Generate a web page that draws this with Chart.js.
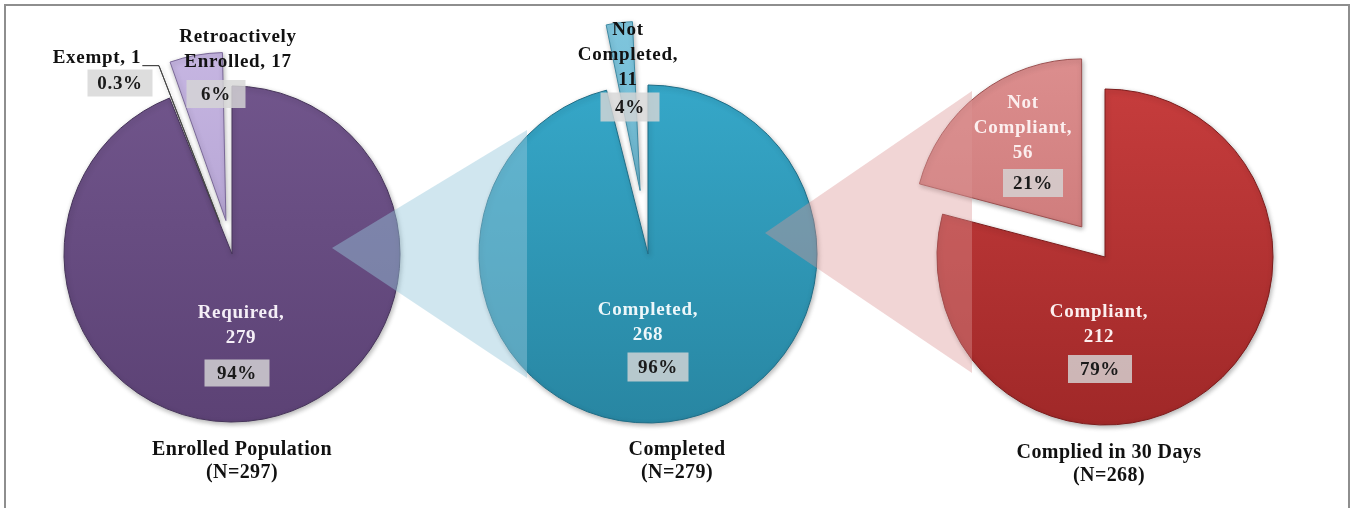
<!DOCTYPE html>
<html><head><meta charset="utf-8">
<script src="https://cdn.jsdelivr.net/npm/chart.js@4.4.1/dist/chart.umd.min.js"></script>
<style>
html,body{margin:0;padding:0;background:#fff;width:1354px;height:508px;overflow:hidden;}
#frame{position:absolute;left:4px;top:4px;width:1342px;height:520px;border:2px solid #8e8e8e;}
canvas{position:absolute;left:0;top:0;}
</style></head><body>
<div id="frame"></div>
<canvas id="c1" width="1354" height="508"></canvas>
<canvas id="c2" width="1354" height="508"></canvas>
<canvas id="c3" width="1354" height="508"></canvas>
<script>
// ---------- data ----------
const pieTitles = ['Enrolled Population', 'Completed', 'Complied in 30 Days'];
const enrolledLabels = ['Required', 'Exempt', ['Retroactively', 'Enrolled']];
const enrolledValues = [279, 1, 17];
const completedLabels = ['Completed', ['Not', 'Completed']];
const completedValues = [268, 11];
const compliedLabels = ['Compliant', ['Not', 'Compliant']];
const compliedValues = [212, 56];

// ---------- style ----------
const FONT = '"Liberation Serif", "Times New Roman", serif';
const pies = [
  { id: 'c1', labels: enrolledLabels, values: enrolledValues, title: pieTitles[0],
    center: [232, 254], radius: 168, titleDx: 10,
    colors: [['#74588f', '#5c4275'], ['#b0b0b0', '#8a8a8a'], ['#cbbbe6', '#a997c9']],
    borders: ['#46345a', '#444444', '#7a6898'],
    offsets: [0, 136, 136],
    valueNewLine: [true, false, false],
    textColor: ['#f5eff7', '#111111', '#111111'],
    textPos: [[9, 59], [-135, -196], [6, -217]],
    boxPos: [[5, 119], [-112, -171], [-16, -160]],
    boxSize: [[65, 27], [65, 27], [59, 28]],
    leader: [false, true, false] },
  { id: 'c2', labels: completedLabels, values: completedValues, title: pieTitles[1],
    center: [648, 254], radius: 169, titleDx: 29,
    colors: [['#38adcf', '#2886a2'], ['#86cbe2', '#5aa8c2']],
    borders: ['#1f6d86', '#3f8aa3'],
    offsets: [0, 256],
    valueNewLine: [true, true],
    textColor: ['#eef7fa', '#111111'],
    textPos: [[0, 56], [-20, -224]],
    boxPos: [[10, 113], [-18, -147]],
    boxSize: [[61, 29], [59, 29]],
    leader: [false, false],
    conn: { apex: [100, -6], baseX: -121, top: -124, bottom: 124, color: 'rgba(150,200,220,0.45)' } },
  { id: 'c3', labels: compliedLabels, values: compliedValues, title: pieTitles[2],
    center: [1105, 257], radius: 168, titleDx: 4,
    colors: [['#cc4040', '#a02828'], ['#e09494', '#c46c6c']],
    borders: ['#7c1c1c', '#9c5050'],
    offsets: [0, 152],
    valueNewLine: [true, true],
    textColor: ['#fcefef', '#fcefef'],
    textPos: [[-6, 55], [-82, -154]],
    boxPos: [[-5, 112], [-72, -74]],
    boxSize: [[64, 28], [60, 28]],
    leader: [false, false],
    conn: { apex: [117, -21], baseX: -133, top: -166, bottom: 116, color: 'rgba(220,150,150,0.4)' } }
];

function pctText(v, total) {
  const p = v / total * 100;
  return (p < 1 ? p.toFixed(1) : Math.round(p).toString()) + '%';
}

function sliceLines(label, value, newLine) {
  const parts = Array.isArray(label) ? label.slice() : [label];
  parts[parts.length - 1] += ',';
  if (newLine) parts.push(String(value));
  else parts[parts.length - 1] += ' ' + value;
  return parts;
}

const charts = [];

function makeChart(p, prev) {
  const S = 200, W = 1354, H = 508;
  const [cx, cy] = p.center;
  const total = p.values.reduce((a, b) => a + b, 0);

  const plugin = {
    id: 'decor_' + p.id,
    beforeDatasetsDraw(chart) {
      const meta = chart.getDatasetMeta(0);
      const R = meta.controller.outerRadius;
      meta.data.forEach(el => {
        const off = (el.options.offset || 0) / 4;
        const fix = 1 - Math.sin(Math.min(Math.PI, el.circumference || 0));
        el.outerRadius = R - off * fix;
      });
      const c = chart.ctx;
      c.save();
      c.shadowColor = 'rgba(0,0,0,0.30)';
      c.shadowBlur = 5;
      c.shadowOffsetX = 1;
      c.shadowOffsetY = 2;
    },
    afterDatasetsDraw(chart) {
      const c = chart.ctx;
      c.restore();
      if (prev && p.conn) {
        const pm = prev.getDatasetMeta(0).data[0];
        const cm = chart.getDatasetMeta(0).data[0];
        const k = p.conn;
        c.save();
        c.fillStyle = k.color;
        c.beginPath();
        c.moveTo(pm.x + k.apex[0], pm.y + k.apex[1]);
        c.lineTo(cm.x + k.baseX, cm.y + k.top);
        c.lineTo(cm.x + k.baseX, cm.y + k.bottom);
        c.closePath();
        c.fill();
        c.restore();
      }
    },
    afterDraw(chart) {
      const c = chart.ctx;
      const meta = chart.getDatasetMeta(0);
      const R = meta.controller.outerRadius;
      const x0 = meta.data[0].x, y0 = meta.data[0].y;
      c.save();
      c.textAlign = 'center';
      c.textBaseline = 'middle';
      p.values.forEach((v, i) => {
        const lines = sliceLines(p.labels[i], v, p.valueNewLine[i]);
        c.font = 'bold 19px ' + FONT;
        c.letterSpacing = '0.7px';
        c.fillStyle = p.textColor[i];
        const tx = x0 + p.textPos[i][0], ty = y0 + p.textPos[i][1];
        lines.forEach((ln, j) => c.fillText(ln, tx, ty + j * 25));
        if (p.leader[i]) {
          const el = meta.data[i];
          const mid = (el.startAngle + el.endAngle) / 2;
          const off = (el.options.offset || 0) / 4;
          const px = el.x + Math.cos(mid) * (off + R);
          const py = el.y + Math.sin(mid) * (off + R);
          const wText = c.measureText(lines[0]).width;
          c.strokeStyle = '#222';
          c.lineWidth = 1;
          c.beginPath();
          c.moveTo(tx + wText / 2 + 1, py);
          c.lineTo(px, py);
          c.stroke();
        }
        // percent box
        const [bw, bh] = p.boxSize[i];
        const bx = x0 + p.boxPos[i][0], by = y0 + p.boxPos[i][1];
        c.fillStyle = 'rgba(214,214,214,0.82)';
        c.fillRect(bx - bw / 2, by - bh / 2, bw, bh);
        c.fillStyle = '#1a1a1a';
        c.fillText(pctText(v, total), bx, by + 1);
      });
      // titles
      c.fillStyle = '#111';
      c.font = 'bold 20px ' + FONT;
      c.letterSpacing = '0.4px';
      c.fillText(p.title, x0 + p.titleDx, y0 + 196);
      c.fillText('(N=' + total + ')', x0 + p.titleDx, y0 + 219);
      c.restore();
    }
  };

  const chart = new Chart(document.getElementById(p.id), {
    type: 'pie',
    data: {
      labels: p.labels,
      datasets: [{
        data: p.values,
        offset: p.offsets,
        borderColor: p.borders,
        borderWidth: 1,
        backgroundColor: (ctx) => {
          const i = ctx.dataIndex;
          const ch = ctx.chart;
          const cols = p.colors[i];
          if (!ch.chartArea) return cols[0];
          const g = ch.ctx.createLinearGradient(0, cy - p.radius - 60, 0, cy + p.radius);
          g.addColorStop(0, cols[0]);
          g.addColorStop(1, cols[1]);
          return g;
        }
      }]
    },
    options: {
      responsive: false,
      animation: false,
      radius: p.radius,
      layout: { padding: { left: cx - S, right: W - cx - S, top: cy - S, bottom: H - cy - S } },
      plugins: { legend: { display: false }, tooltip: { enabled: false }, title: { display: false } },
      events: []
    },
    plugins: [plugin]
  });
  return chart;
}

let prev = null;
pies.forEach(p => { prev = makeChart(p, prev); charts.push(prev); });
</script>
</body></html>
